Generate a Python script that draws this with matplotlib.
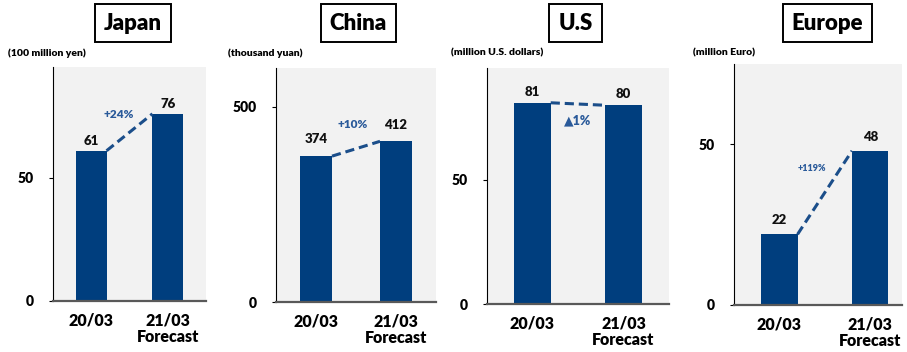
import matplotlib
matplotlib.use("Agg")
import matplotlib.pyplot as plt

plt.rcParams['font.family'] = ['Lato', 'DejaVu Sans']
BOLD = 800

regions = ["Japan", "China", "U.S", "Europe"]
units = ["(100 million yen)", "(thousand yuan)", "(million U.S. dollars)", "(million Euro)"]
periods = ["20/03", "21/03\nForecast"]
fy20 = [61, 374, 81, 22]
fy21 = [76, 412, 80, 48]
changes = ["+24%", "+10%", "\u25B21%", "+119%"]
y_max = [95, 600, 95, 75]
y_ticks = [[0, 50], [0, 500], [0, 50], [0, 50]]

W, H = 907, 352
fig = plt.figure(figsize=(W / 100, H / 100), dpi=100)

# panel boxes in pixels: left, right, top, bottom
boxes = [(53, 206, 67, 301), (276, 436, 68, 302), (487, 669, 68, 304), (734, 902, 64, 305)]
x_right = [1.5, 1.5, 1.5, 1.35]
label_off = [7, 12, 8, 10]          # value-label offsets (points)
pct_pos = [(0.353, 75.9), (0.458, 454), (0.498, 73.9), (0.36, 42.5)]
pct_size = [8.5, 8.5, 9, 6.5]
title_x = [133, 358.5, 575.5, 827.5]
unit_x = [8, 228, 451, 693]

bar_color = "#003E7E"
line_color = "#1B4E8A"
pct_color = "#2A5A9A"
bw = 0.4

for i, name in enumerate(regions):
    l, r, t, b = boxes[i]
    ax = fig.add_axes([l / W, 1 - b / H, (r - l) / W, (b - t) / H])
    ax.set_facecolor("#F2F2F2")
    vals = [fy20[i], fy21[i]]
    ax.bar([0, 1], vals, width=bw, color=bar_color, zorder=2)
    ax.plot([bw / 2, 1 - bw / 2], vals, color=line_color, lw=2.2,
            dashes=(3, 1.6), zorder=3)
    for xi, v in enumerate(vals):
        ax.annotate(str(v), (xi, v), xytext=(0, label_off[i]),
                    textcoords="offset points", ha="center", va="center",
                    fontsize=9.5, fontweight=BOLD, color="#111111")
    px, py = pct_pos[i]
    ax.text(px, py, changes[i], ha="center", va="center", color=pct_color,
            fontsize=pct_size[i], fontweight=BOLD,
            family=['Lato', 'DejaVu Sans'])
    ax.set_xlim(-0.5, x_right[i])
    ax.set_ylim(0, y_max[i])
    ax.set_yticks(y_ticks[i])
    ax.set_yticklabels([str(v) for v in y_ticks[i]], fontsize=10,
                       fontweight=BOLD)
    ax.set_xticks([0, 1])
    ax.set_xticklabels(periods, fontsize=11.5, fontweight=BOLD,
                       linespacing=1.1, va="top")
    ax.tick_params(axis="x", length=0, pad=8)
    ax.tick_params(axis="y", length=3, width=0.8, pad=11)
    for s in ("top", "right"):
        ax.spines[s].set_visible(False)
    ax.spines["left"].set_color("black")
    ax.spines["left"].set_linewidth(0.8)
    ax.spines["bottom"].set_color("#595959")
    ax.spines["bottom"].set_linewidth(1.6)

    fig.text(title_x[i] / W, 1 - 23 / H, name, ha="center", va="center",
             fontsize=16, fontweight=BOLD,
             bbox=dict(boxstyle="square,pad=0.4", fc="white", ec="black",
                       lw=1.4))
    fig.text(unit_x[i] / W, 1 - 53 / H, units[i], ha="left", va="center",
             fontsize=7.5, fontweight=BOLD)

fig.savefig("out.png", dpi=100)
